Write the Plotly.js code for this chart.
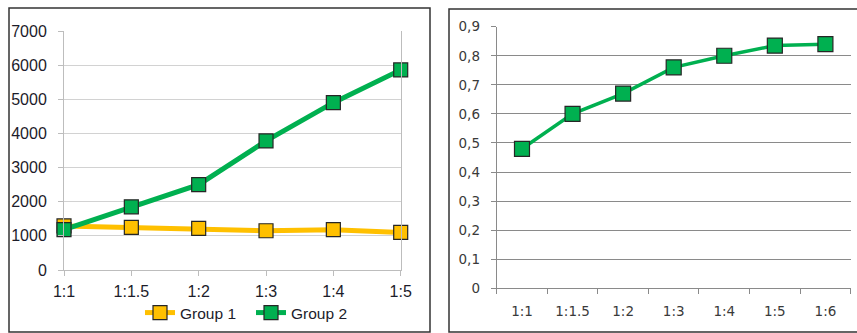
<!DOCTYPE html>
<html>
<head>
<meta charset="utf-8">
<script src="https://cdn.plot.ly/plotly-3.0.1.min.js"></script>
<style>
  html, body { margin: 0; padding: 0; background: #ffffff; }
  #chart { width: 857px; height: 333px; }
</style>
</head>
<body>
<div id="chart"></div>
<script>
// Left panel: two groups across mixing ratios
const ratiosLeft = ['1:1', '1:1.5', '1:2', '1:3', '1:4', '1:5'];
const group1 = [1290, 1250, 1220, 1150, 1180, 1100];
const group2 = [1180, 1850, 2500, 3780, 4900, 5860];

// Right panel: single ratio series
const ratiosRight = ['1:1', '1:1.5', '1:2', '1:3', '1:4', '1:5', '1:6'];
const ratioValues = [0.48, 0.60, 0.67, 0.76, 0.80, 0.835, 0.84];

const W = 857, H = 333;
const px = v => v / W;          // horizontal pixel -> paper fraction
const py = v => (H - v) / H;    // vertical pixel (from top) -> paper fraction

const GREEN = '#00b050';
const ORANGE = '#ffc000';
const EDGE = '#262626';

const leftFont = { family: 'Liberation Sans, Arial, sans-serif', size: 16, color: '#1c1c2a' };
const legendFont = { family: 'Liberation Sans, Arial, sans-serif', size: 15.5, color: '#1c1c2a' };
const rightFont = { family: 'DejaVu Sans, Verdana, sans-serif', size: 13.5, color: '#3a3a3a' };

const traces = [
  {
    x: ratiosLeft, y: group1, name: 'Group 1', xaxis: 'x', yaxis: 'y',
    type: 'scatter', mode: 'lines+markers', cliponaxis: false,
    line: { color: ORANGE, width: 5 },
    marker: { symbol: 'square', size: 14, color: ORANGE, line: { color: EDGE, width: 1.2 } }
  },
  {
    x: ratiosLeft, y: group2, name: 'Group 2', xaxis: 'x', yaxis: 'y',
    type: 'scatter', mode: 'lines+markers', cliponaxis: false,
    line: { color: GREEN, width: 5 },
    marker: { symbol: 'square', size: 14, color: GREEN, line: { color: EDGE, width: 1.2 } }
  },
  {
    x: ratiosRight, y: ratioValues, name: 'Ratio', xaxis: 'x2', yaxis: 'y2',
    type: 'scatter', mode: 'lines+markers', cliponaxis: false, showlegend: false,
    line: { color: GREEN, width: 3.5 },
    marker: { symbol: 'square', size: 15, color: GREEN, line: { color: EDGE, width: 1.2 } }
  }
];

const layout = {
  width: W, height: H,
  margin: { l: 0, r: 0, t: 0, b: 0 },
  paper_bgcolor: '#ffffff',
  plot_bgcolor: '#ffffff',
  separators: ', ',
  showlegend: true,
  legend: {
    orientation: 'h',
    x: px(140), xanchor: 'left',
    y: py(313), yanchor: 'middle',
    font: legendFont,
    bgcolor: 'rgba(0,0,0,0)',
    entrywidth: 66, entrywidthmode: 'pixels',
    itemwidth: 30,
    tracegroupgap: 0
  },
  xaxis: {
    domain: [px(64), px(400.7)],
    type: 'category',
    range: [0, 5],
    showgrid: false,
    showline: true, linecolor: '#bdbdbd', linewidth: 1,
    ticks: 'outside', ticklen: 5, tickcolor: '#bdbdbd',
    tickfont: leftFont,
    ticklabelstandoff: 2,
    zeroline: false,
    fixedrange: true
  },
  yaxis: {
    domain: [py(270), py(31)],
    range: [0, 7000],
    dtick: 1000,
    tickformat: 'd',
    showgrid: true, gridcolor: '#d2d2d2', gridwidth: 1,
    showline: true, linecolor: '#bdbdbd', linewidth: 1, mirror: true,
    ticks: 'outside', ticklen: 5, tickcolor: '#bdbdbd',
    tickfont: leftFont,
    ticklabelstandoff: 8,
    zeroline: false,
    fixedrange: true
  },
  xaxis2: {
    domain: [px(496.7), px(850.7)],
    anchor: 'y2',
    type: 'category',
    range: [-0.5, 6.5],
    tickson: 'boundaries',
    showgrid: false,
    showline: true, linecolor: '#8a8a8a', linewidth: 1,
    ticks: 'outside', ticklen: 5, tickcolor: '#8a8a8a',
    tickfont: rightFont,
    ticklabelstandoff: 10,
    zeroline: false,
    fixedrange: true
  },
  yaxis2: {
    domain: [py(288.3), py(26.7)],
    anchor: 'x2',
    range: [0, 0.9],
    dtick: 0.1,
    showgrid: true, gridcolor: '#8a8a8a', gridwidth: 1,
    showline: true, linecolor: '#8a8a8a', linewidth: 1,
    ticks: 'outside', ticklen: 5, tickcolor: '#8a8a8a',
    tickfont: rightFont,
    ticklabelstandoff: 8,
    zeroline: false,
    fixedrange: true
  },
  shapes: [
    {
      type: 'rect', xref: 'paper', yref: 'paper', layer: 'above',
      x0: px(9), x1: px(430), y0: py(332), y1: py(8),
      line: { color: '#333333', width: 1.5 }, fillcolor: 'rgba(0,0,0,0)'
    },
    {
      type: 'rect', xref: 'paper', yref: 'paper', layer: 'above',
      x0: px(449), x1: px(870), y0: py(332), y1: py(9),
      line: { color: '#333333', width: 1.5 }, fillcolor: 'rgba(0,0,0,0)'
    }
  ]
};

Plotly.newPlot('chart', traces, layout, { displayModeBar: false, staticPlot: true });
</script>
</body>
</html>
